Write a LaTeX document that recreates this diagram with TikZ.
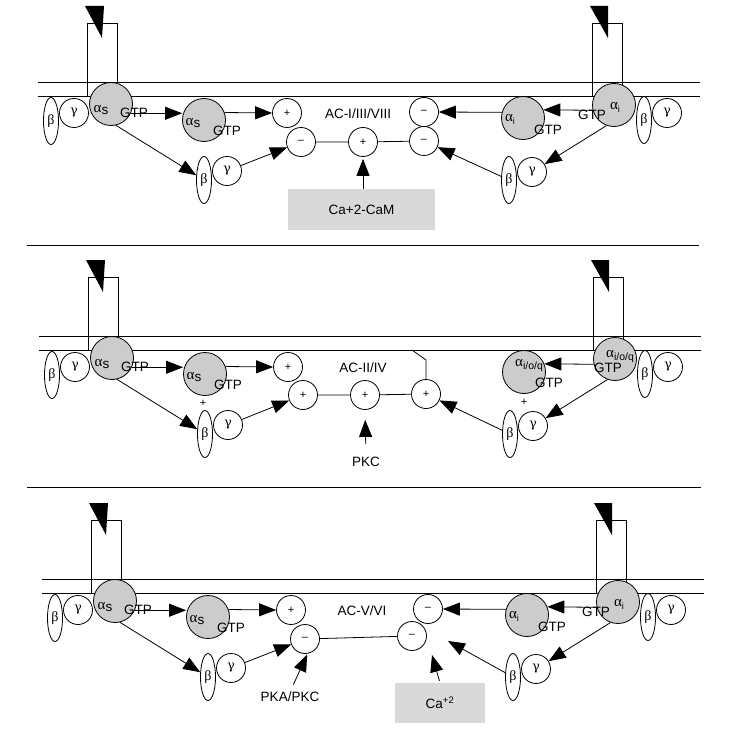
\documentclass[tikz,border=0pt]{standalone}
\usepackage{fontspec}
\setmainfont{Liberation Sans}
\newfontfamily\grk{Liberation Serif}
\newfontfamily\grkg{DejaVu Serif}
\usetikzlibrary{shapes.geometric,arrows.meta}
\newcommand\asl{{\grk\fontsize{15}{15}\selectfont α}\raisebox{-1.5pt}{s}}
\newcommand\ail{{\grk\fontsize{15}{15}\selectfont α}\raisebox{-3pt}{\fontsize{9}{9}\selectfont i}}
\newcommand\aiq{{\grk\fontsize{15}{15}\selectfont α}\raisebox{-3pt}{\fontsize{10.5}{10.5}\selectfont i/o/q}}
\newcommand\membr{\draw[memb] (38,82) -- (700,82) (38,96) -- (700,96);}
\newcommand\leftG[1]{%
  \draw[memb] (87,96) -- (87,23) -- (117,23) -- (117,96);
  \fill (85,6) -- (104,6) -- (102,38) -- cycle;
  \node[bet] (#1bL) at (51,121) {β};
  \node[gam] (#1gL) at (74,113) {γ};
  \node[alph] (#1as) at (111,104) {};
  \node[alph] (#1as2) at (204,120) {};
  \node[bet] (#1bL2) at (204,180) {β};
  \node[gam] (#1gL2) at (227,171) {γ};
  \node[lbl] (#1asL) at (101,110) {\asl};
  \node[lbl] (#1asL2) at (193,123) {\asl};
  \node[sgn] (#1pU) at (287,113) {+};
  \draw[arr] (#1as2.20) -- (#1pU.west);
  \draw[arr] (#1as.-25) -- (#1as2.west |- #1as.-25);
  \draw[arr] (#1as.-77) -- (#1bL2);
  \node[lbl] (#1gtp) at (134,113) {GTP};
  \node[lbl] (#1gtp2) at (227,131) {GTP};
}
\newcommand\rightG[1]{%
  \draw[memb] (592,96) -- (592,23) -- (622,23) -- (622,96);
  \fill (590,6) -- (608,6) -- (608,38) -- cycle;
  \node[bet] (#1bR) at (644,120) {β};
  \node[gam] (#1gR) at (667,113) {γ};
  \node[alph] (#1ai) at (614,105) {};
  \node[alph] (#1ai2) at (523,118) {};
  \node[bet] (#1bR2) at (509,180) {β};
  \node[gam] (#1gR2) at (532,172) {γ};
  \draw[arr] (#1ai.194) -- (#1ai2.22);
  \draw[arr] (#1ai.-110) -- (#1gR2);
}
\begin{document}
\begin{tikzpicture}[x=1pt,y=-1pt,
  every node/.style={inner sep=0pt},
  memb/.style={line width=0.8pt},
  lbl/.style={font=\fontsize{13.5}{14}\selectfont},
  alph/.style={circle,draw,line width=0.8pt,fill=gray!40,minimum size=43pt},
  gam/.style={circle,draw,line width=0.8pt,fill=white,minimum size=29pt,font=\grkg\fontsize{12.5}{13}\selectfont},
  bet/.style={ellipse,draw,line width=0.8pt,fill=white,minimum width=15pt,minimum height=47pt,font=\grk\fontsize{14}{14}\selectfont},
  sgn/.style={circle,draw,line width=0.8pt,fill=white,minimum size=29pt,font=\fontsize{11}{11}\selectfont},
  smsgn/.style={font=\fontsize{11}{11}\selectfont},
  arr/.style={-{Triangle[length=17pt,width=13pt]},line width=0.8pt},
  conn/.style={line width=0.8pt},
  graybox/.style={fill=gray!30,font=\fontsize{13.5}{14}\selectfont}
]
\useasboundingbox (0,0) rectangle (730,730);
\fill[white] (0,0) rectangle (730,730);
% dividers
\coordinate (d1a) at (27,245); \coordinate (d1b) at (699,245);
\coordinate (d2a) at (27,487); \coordinate (d2b) at (701,487);
\draw[line width=0.9pt] (d1a) -- (d1b) (d2a) -- (d2b);

% ---------- panel 1 ----------
\membr
\leftG{a}
\rightG{a}
\node[sgn] (aLL) at (301,142) {–};
\node[sgn] (aM) at (363,142) {+};
\node[sgn] (aLR) at (424,141) {–};
\node[sgn] (aUR) at (424,112) {–};
\draw[conn] (aLL) -- (aM) -- (aLR);
\node[lbl] (aAC) at (358,114) {AC-I/III/VIII};
\node[graybox, minimum width=147pt, minimum height=41pt] (aCa) at (361.5,209.5) {Ca+2-CaM};
\draw[arr, shorten >=2pt] (aM |- aCa.north) -- (aM.south);
\draw[arr] (agL2) -- (aLL);
\draw[arr] (aai2.165) -- (aUR.east);
\draw[arr] (abR2) -- (aLR);
\node[lbl] (aaiL) at (615,107) {\ail};
\node[lbl] (aaiG) at (592,115) {GTP};
\node[lbl] (aaiL2) at (510,119) {\ail};
\node[lbl] (aaiG2) at (548,130) {GTP};

% ---------- panel 2 ----------
\begin{scope}[shift={(1,254)}]
\membr
\leftG{b}
\rightG{b}
\node[sgn] (bLL) at (302,141) {+};
\node[sgn] (bM) at (364,141) {+};
\node[sgn] (bR) at (425,140) {+};
\draw[conn] (bLL) -- (bM) -- (bR);
\coordinate (bKnee) at (425,106);
\coordinate (bAnch) at (411,96);
\draw[conn] (bR.north) -- (bKnee) -- (bAnch);
\node[lbl] (bAC) at (362,114) {AC-II/IV};
\node[lbl] (bPKC) at (365,208) {PKC};
\draw[arr, shorten <=13pt, shorten >=10pt] (bPKC.north) -- (bM.south);
\node[smsgn] (bps1) at (202,149) {+};
\node[smsgn] (bps2) at (523,148) {+};
\draw[arr] (bgL2) -- (bLL);
\draw[arr] (bbR2) -- (bR);
\node[lbl] (baiL) at (619,103) {\aiq};
\node[lbl] (baiG) at (607,114) {GTP};
\node[lbl] (baiL2) at (528,112) {\aiq};
\node[lbl] (baiG2) at (548,129) {GTP};
\end{scope}

% ---------- panel 3 ----------
\begin{scope}[shift={(4,497)}]
\membr
\leftG{c}
\rightG{c}
\node[sgn] (cLL) at (301,142) {–};
\node[sgn] (cLR) at (408,139) {–};
\node[sgn] (cUR) at (424,112) {–};
\draw[conn] (cLL) -- (cLR);
\node[lbl] (cAC) at (358,114) {AC-V/VI};
\node[graybox, minimum width=90pt, minimum height=40pt] (cCa) at (436,206) {Ca\textsuperscript{+2}};
\coordinate (cCaTip) at (428,158);
\draw[arr, shorten <=2pt] (cCa.north) -- (cCaTip);
\node[lbl] (cPKA) at (286,200) {PKA/PKC};
\draw[arr, shorten <=8pt, shorten >=1pt] (cPKA.north) -- (cLL.-80);
\coordinate (cTip) at (444,144);
\draw[arr] (cbR2) -- (cTip);
\draw[arr] (cgL2) -- (cLL);
\draw[arr] (cai2.165) -- (cUR.east);
\node[lbl] (caiL) at (615,107) {\ail};
\node[lbl] (caiG) at (592,115) {GTP};
\node[lbl] (caiL2) at (510,119) {\ail};
\node[lbl] (caiG2) at (548,130) {GTP};
\end{scope}
\end{tikzpicture}
\end{document}
